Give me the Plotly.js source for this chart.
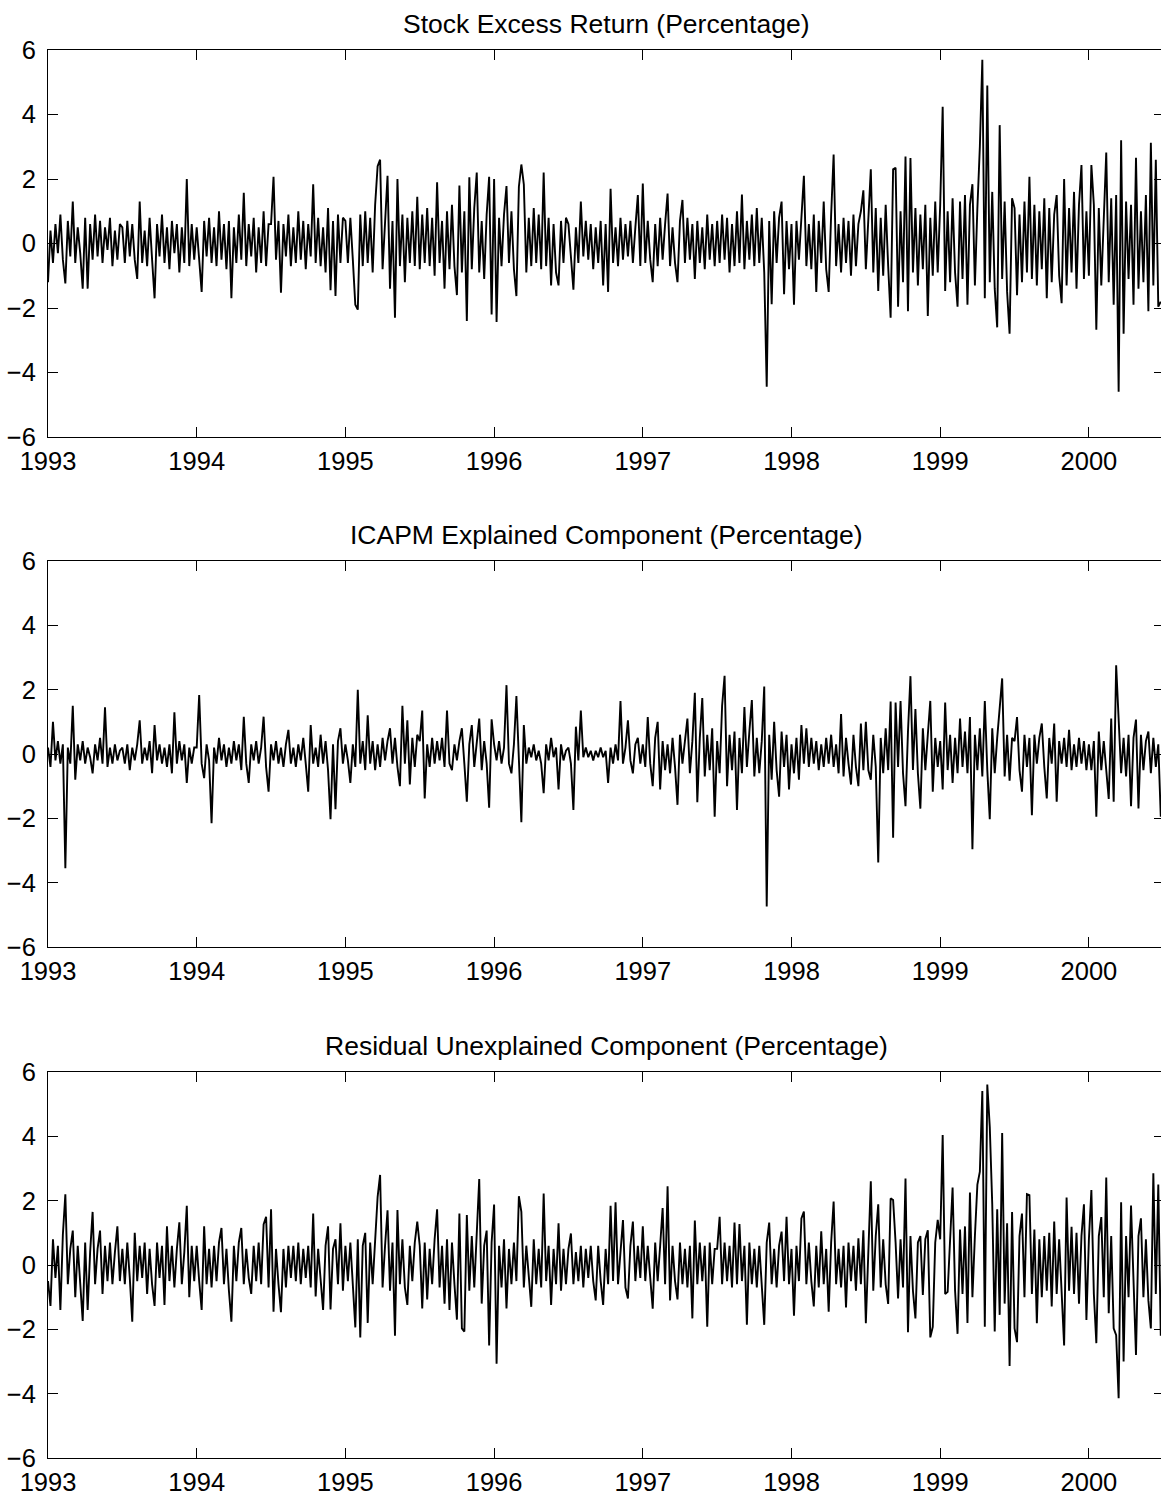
<!DOCTYPE html>
<html>
<head>
<meta charset="utf-8">
<script src="https://cdn.plot.ly/plotly-3.0.1.min.js"></script>
<style>
html,body{margin:0;padding:0;background:#fff;overflow:hidden;}
#chart{width:1164px;height:1499px;}
</style>
</head>
<body>
<div id="chart"></div>
<script>
// ---- data (one value every 1/60 year, by half-year blocks) ----
const START_YEAR = 1993;
const PTS_PER_YEAR = 60;
const yearTicks = [1993, 1994, 1995, 1996, 1997, 1998, 1999, 2000];
const yearLabels = ["1993", "1994", "1995", "1996", "1997", "1998", "1999", "2000"];
const yTicks = [-6, -4, -2, 0, 2, 4, 6];
const titles = [
  "Stock Excess Return (Percentage)",
  "ICAPM Explained Component (Percentage)",
  "Residual Unexplained Component (Percentage)"
];

const stockExcess = [
  -1.2,0.4,-0.6,0.6,-0.3,0.9,-0.5,-1.24,0.7,-0.4,1.3,-0.6,0.5,-0.3,-1.4,0.8,-1.4,0.6,-0.5,0.9,-0.4,0.7,-0.6,0.5,-0.2,0.8,-0.7,0.4,-0.5,0.6,
  0.5,-0.6,0.7,-0.4,0.6,-0.5,-1.1,1.3,-0.6,0.4,-0.7,0.8,-0.5,-1.7,0.6,-0.4,0.9,-0.6,0.5,-0.8,0.7,-0.3,0.6,-0.9,0.5,-0.6,2.0,-0.7,0.6,-0.5,
  0.5,-0.6,-1.5,0.7,-0.4,0.8,-0.6,0.5,-0.7,1.0,-0.5,0.6,-0.8,0.7,-1.7,0.5,-0.6,0.9,-0.5,1.57,-0.7,0.6,-0.4,0.8,-0.9,0.5,-0.6,1.0,-0.7,0.6,
  0.6,2.07,-0.5,0.7,-1.53,0.6,-0.4,0.9,-0.7,0.5,-0.6,1.0,-0.5,0.7,-0.8,0.6,-0.4,1.84,-0.6,0.8,-0.7,0.5,-0.9,1.1,-1.45,0.7,-1.63,0.9,-0.6,0.8,
  0.7,-0.6,0.8,-0.5,-1.9,-2.05,0.9,-0.7,1.0,-0.6,0.8,-0.9,1.2,2.4,2.6,-0.8,0.9,2.1,-1.4,0.7,-2.3,2.0,-0.7,0.9,-1.2,0.8,-0.6,1.0,-0.7,1.45,
  -0.8,0.9,-0.6,1.1,-0.7,0.8,-1.0,1.9,-0.6,0.7,-1.4,1.0,-0.8,1.2,-0.7,-1.6,1.8,-0.9,1.0,-2.4,2.05,-0.8,1.1,2.2,-0.9,0.7,-1.1,0.9,2.07,-2.2,
  2.0,-2.43,0.8,-0.7,0.9,1.78,-0.6,1.0,-0.8,-1.63,1.76,2.45,1.83,-0.9,0.8,-0.7,1.1,-0.6,0.9,-0.8,2.2,-0.7,0.8,-1.3,0.6,-0.9,-1.3,0.7,-0.6,0.8,
  0.6,-0.5,-1.43,0.5,-0.6,1.3,-0.4,0.7,-0.5,0.6,-0.8,0.5,-0.6,0.7,-1.3,0.6,-1.5,1.7,-0.6,0.5,-0.7,0.8,-0.5,0.6,-0.4,0.7,-0.6,0.5,1.5,-0.7,
  1.86,-0.6,0.7,-0.5,-1.2,0.6,-0.7,0.8,-0.5,0.6,1.55,-0.7,0.5,-0.6,-1.2,0.7,1.35,-0.6,0.8,-0.5,0.6,-1.1,0.7,-0.6,0.5,-0.8,0.9,-0.5,0.6,-0.7,
  0.7,-0.6,0.9,-0.5,0.8,-0.9,0.6,-0.7,1.0,-0.6,1.52,-0.8,0.7,-0.5,0.9,-0.7,1.1,-0.6,0.8,-0.9,-4.44,0.7,-1.88,1.0,-0.6,0.8,1.3,-1.57,0.7,-0.8,
  0.6,-1.9,0.7,-0.5,0.8,2.1,-0.7,0.6,-0.8,0.9,-1.5,0.7,-0.6,1.3,-0.8,-1.5,0.9,2.76,-0.7,0.6,-0.9,0.8,-0.6,0.7,-1.0,0.9,-0.7,0.6,1.0,1.65,
  -0.8,0.9,2.3,-0.9,1.1,-1.47,0.8,-1.0,1.2,-0.7,-2.3,2.3,2.35,-1.96,1.0,-1.2,2.7,-2.1,2.65,-0.9,1.1,-1.3,0.9,-0.8,1.2,-2.25,0.8,-1.0,1.3,-0.9,
  1.2,4.24,-1.47,1.0,-1.2,1.4,-0.9,-1.96,1.3,-1.1,1.5,-1.9,1.2,1.84,-1.3,1.1,3.0,5.7,-1.7,4.9,-1.2,1.6,-1.4,-2.6,3.67,-1.1,1.3,-1.5,-2.8,1.4,
  1.1,-1.6,0.9,-1.2,1.3,-0.9,2.07,-1.1,1.2,-1.3,1.0,-0.8,1.4,-1.7,1.1,-1.2,0.9,1.5,-1.0,-1.85,2.0,-1.3,1.1,-0.9,1.6,-1.4,1.2,2.43,-1.1,1.0,
  -1.0,2.43,1.2,-2.67,1.1,-1.3,0.9,2.82,-1.2,1.4,-1.9,1.5,-4.6,3.2,-2.8,1.3,-1.1,1.2,-1.9,2.66,-1.4,1.0,-1.2,1.5,-2.1,3.12,-1.3,2.6,-1.96,-1.8
];

const icapmExplained = [
  0.2,-0.4,1.0,-0.2,0.4,-0.3,0.3,-3.55,0.2,-0.3,1.5,-0.8,0.3,-0.2,0.4,-0.3,0.2,-0.1,-0.6,0.3,-0.2,0.5,-0.3,1.45,-0.4,0.2,-0.3,0.3,-0.2,0.1,
  0.2,-0.3,0.3,-0.5,0.2,-0.2,0.3,1.05,-0.3,0.2,-0.2,0.4,-0.6,0.9,-0.2,0.3,-0.3,0.2,-0.4,0.3,-0.6,1.3,-0.3,0.4,-0.2,0.3,-0.9,0.2,-0.3,0.2,
  0.2,1.83,-0.3,-0.75,0.3,-0.2,-2.15,0.2,-0.3,0.5,-0.2,0.3,-0.4,0.2,-0.3,0.4,-0.2,0.3,-0.5,1.16,-0.3,-0.9,0.3,-0.2,0.4,-0.3,0.2,1.16,-0.4,-1.17,
  0.3,-0.2,0.4,-0.3,0.2,-0.4,0.3,0.75,-0.3,0.2,-0.4,0.3,-0.2,0.5,-0.3,-1.17,0.9,-0.3,0.2,-0.4,0.6,-0.3,0.4,-0.5,-2.03,0.3,-1.72,0.4,0.8,-0.3,
  0.3,-0.2,-0.9,0.3,-0.4,2.0,-0.3,0.4,-0.5,1.2,-0.3,0.4,-0.5,0.3,-0.4,0.5,-0.2,0.4,0.8,-0.3,0.5,-0.4,-1.0,1.5,-0.3,1.05,-0.95,0.5,-0.4,0.6,
  0.4,1.35,-1.38,0.3,-0.4,0.5,-0.3,0.4,-0.2,0.5,-0.4,1.35,-0.3,-0.5,0.3,-0.2,0.4,0.8,-0.3,-1.48,0.3,0.9,-0.4,0.3,1.1,-0.5,0.4,-0.3,-1.67,1.08,
  0.3,-0.2,0.4,-0.3,0.2,2.14,-0.3,-0.6,0.3,1.8,-0.2,-2.12,0.9,-0.3,0.2,-0.1,0.3,-0.2,0.1,-0.3,-1.22,0.3,-0.2,0.5,-0.1,0.2,-1.1,0.3,-0.2,0.1,
  0.2,-0.3,-1.74,0.85,-0.2,1.35,-0.1,0.2,-0.1,0.1,-0.2,0.1,-0.1,0.2,-0.1,0.1,-0.9,0.2,-0.3,0.3,-0.2,1.65,-0.3,0.2,1.05,-0.2,-0.6,0.3,0.5,-0.3,
  0.3,-0.4,1.15,-0.3,-1.0,0.5,1.0,-1.1,0.4,-0.5,0.3,-0.6,0.5,-0.4,-1.58,0.6,-0.3,0.5,1.1,-0.6,0.4,1.9,-1.5,0.5,1.74,-0.7,0.6,-0.5,0.8,-1.95,
  0.4,-0.6,1.5,2.43,-1.0,0.6,-0.5,0.7,-1.74,0.5,-0.6,1.46,-0.4,0.7,1.68,-0.7,0.5,-0.6,0.4,2.1,-4.74,0.6,-0.8,1.0,-0.5,-1.33,0.7,-0.4,0.6,-1.1,
  0.3,-0.6,0.5,-0.8,0.9,-0.3,0.8,-0.4,0.5,-0.3,0.4,-0.5,0.3,-0.4,0.5,-0.3,0.6,-0.4,0.3,-0.6,1.24,-0.7,0.5,-0.3,-0.95,0.6,-0.4,-1.0,0.95,-0.5,
  1.0,-0.5,-0.8,0.6,-0.4,-3.37,0.5,-0.6,0.8,-0.5,1.63,-2.6,1.6,-0.4,1.65,-0.6,-1.62,0.7,2.42,-0.5,1.4,-0.6,-1.7,0.8,-0.5,0.6,1.65,-1.17,0.5,-0.4,
  0.4,-1.1,1.6,-0.5,0.6,-0.9,0.5,-0.6,1.1,-0.4,0.7,-0.6,1.15,-2.96,0.6,-0.5,0.8,-0.7,1.65,-0.5,-2.03,0.8,-0.6,0.5,1.4,2.35,-0.7,0.6,-0.83,0.5,
  0.4,1.15,-0.5,-1.17,0.6,-0.4,0.5,-1.9,0.6,-0.3,0.5,0.95,-0.4,-1.38,0.5,-0.3,0.95,-1.48,0.4,-0.3,0.5,-0.4,0.75,-0.5,0.3,-0.4,0.5,-0.3,0.4,-0.5,
  0.3,-0.5,0.4,-1.95,0.7,-0.5,0.4,-0.6,-1.4,1.1,-1.48,2.76,1.25,-0.6,0.5,-0.7,0.6,-1.62,0.5,1.07,-1.69,0.6,-0.5,0.4,0.7,-0.6,0.5,-0.4,0.3,-1.95
];

const residualUnexplained = [
  -0.5,-1.27,0.8,-0.4,0.6,-1.4,0.95,2.2,-0.6,0.5,1.07,-1.0,0.6,-0.5,-1.74,0.7,-1.4,0.4,1.65,-0.6,0.5,1.07,-0.9,0.6,-0.5,0.7,-0.6,0.4,1.2,-0.5,
  0.5,-0.6,0.7,-0.4,-1.76,1.0,-0.5,0.6,-0.4,0.7,-0.9,0.5,-0.6,-1.27,0.7,-0.4,0.6,-1.24,1.2,-0.5,0.6,-0.7,0.5,1.33,-0.6,0.4,1.84,-1.0,0.6,-0.5,
  0.6,-0.5,-1.4,1.2,-0.6,0.5,-0.7,0.6,-0.5,0.7,1.15,-0.6,0.5,-0.8,-1.76,0.6,-0.5,0.7,1.15,-0.6,0.5,-0.4,-0.9,0.6,-0.5,0.7,-0.6,1.26,1.5,-0.7,
  1.73,-1.45,0.5,-0.6,-1.47,0.5,-0.7,0.6,-0.4,0.6,-0.5,0.7,-0.6,0.5,-0.4,0.6,-0.7,1.6,-0.98,0.5,-0.6,-1.4,0.6,1.2,-1.38,0.5,0.8,-0.6,1.3,-0.8,
  0.6,-0.5,0.7,-0.6,-1.94,0.8,-2.25,0.6,1.0,-1.8,0.7,-0.6,0.8,2.12,2.8,-0.7,0.6,1.7,-0.8,0.7,-2.2,1.71,-0.6,0.8,-0.7,-1.24,0.6,-0.5,0.7,1.35,
  0.6,-1.35,0.7,-1.07,0.5,-0.6,0.8,1.73,-0.7,0.6,-1.2,0.8,-1.4,0.7,-0.6,-1.7,1.6,-1.97,-2.07,1.55,-0.8,0.9,-0.7,0.8,2.67,-1.2,0.6,1.07,-2.5,0.7,
  1.88,-3.07,0.6,-0.7,0.8,-1.35,0.5,-0.6,0.7,-0.5,2.14,1.65,-0.7,0.6,-0.5,-1.3,0.8,-0.6,0.5,-0.7,2.22,-0.5,0.6,-1.24,0.5,-0.6,1.3,-0.8,0.5,-0.6,
  0.5,0.98,-0.6,0.4,-0.5,0.6,-0.7,0.5,-0.4,0.6,-0.5,-1.1,0.6,-0.5,-1.24,0.5,-0.6,1.84,-0.5,1.95,-0.6,0.5,1.4,-0.7,-1.04,0.6,1.35,-0.5,0.6,-0.4,
  1.2,-0.5,0.6,-0.4,-1.36,0.7,-0.5,0.6,1.77,-0.6,2.45,-1.1,0.6,-0.5,-1.07,0.7,-0.6,0.5,-0.7,0.6,-1.66,1.38,-0.6,0.7,-0.5,0.6,-1.92,0.7,-0.6,0.5,
  0.5,1.5,-0.6,0.7,-0.5,0.6,-0.7,1.32,-0.6,1.27,-0.5,0.6,-1.86,0.7,-0.6,0.5,-0.7,0.6,-0.5,-1.86,0.7,1.32,-0.6,0.5,-0.7,0.6,1.04,-0.5,1.5,-0.6,
  0.5,-1.58,0.6,-0.5,1.45,1.66,-0.6,0.7,-0.5,-1.29,0.6,-0.7,1.05,-0.6,0.5,-1.45,0.7,1.97,-0.6,0.5,-0.7,0.6,-1.32,0.7,-0.5,0.6,-0.8,0.83,-0.6,1.08,
  -1.81,0.7,2.6,-0.8,0.9,1.89,-0.7,0.8,-0.6,-1.21,2.07,2.02,0.7,-1.04,0.8,-0.7,2.69,-2.09,0.9,-0.8,-1.66,0.7,0.9,-0.93,0.8,1.08,-2.25,-1.92,0.7,1.4,
  0.8,4.04,-0.9,-0.83,1.0,2.41,-0.8,-2.14,1.1,-0.9,1.2,-1.8,2.25,-1.0,0.9,2.5,2.9,5.41,-1.92,5.61,4.3,1.89,-2.07,1.73,-1.55,4.1,-1.2,1.3,-3.14,1.65,
  -1.97,-2.4,0.9,1.6,-1.0,2.2,2.17,-0.9,1.1,-1.81,0.8,-1.0,0.9,-0.8,1.0,-1.29,1.35,-0.9,0.8,-1.1,-2.5,2.1,-0.8,1.19,-0.9,1.0,-1.2,0.9,1.89,-1.71,
  0.8,2.33,-0.9,-2.43,0.9,1.49,-1.0,2.72,-1.5,0.9,-1.97,-2.18,-4.14,1.95,-3.0,0.9,-1.0,1.85,-0.8,-2.8,0.9,1.45,-1.0,0.8,-1.1,-1.97,2.85,-0.9,2.5,-2.2
];

// ---- chart ----
const seriesList = [stockExcess, icapmExplained, residualUnexplained];
const W = 1164, H = 1499;
const plotLeft = 48;
const pxPerYear = 148.7;
const xEnd = START_YEAR + (W - plotLeft) / pxPerYear;
const panelPx = [[50, 437], [561, 947], [1072, 1458]]; // top, bottom in px
const FONT = "Liberation Sans, Arial, Helvetica, sans-serif";

const traces = [];
const layout = {
  width: W, height: H,
  margin: {l: plotLeft, r: 0, t: 0, b: 0},
  paper_bgcolor: "#ffffff",
  plot_bgcolor: "#ffffff",
  showlegend: false,
  font: {family: FONT, size: 25.5, color: "#000"},
  annotations: []
};

seriesList.forEach((ys, k) => {
  const xs = ys.map((_, i) => START_YEAR + i / PTS_PER_YEAR);
  const n = k === 0 ? "" : String(k + 1);
  traces.push({
    x: xs, y: ys, type: "scatter", mode: "lines",
    line: {color: "#000", width: 1.9},
    xaxis: "x" + n, yaxis: "y" + n, hoverinfo: "skip"
  });
  const dom = [1 - panelPx[k][1] / H, 1 - panelPx[k][0] / H];
  layout["xaxis" + n] = {
    domain: [0, 1], anchor: "y" + n,
    range: [START_YEAR, xEnd],
    tickmode: "array", tickvals: yearTicks, ticktext: yearLabels,
    ticks: "inside", ticklen: 10, tickwidth: 1, tickcolor: "#000",
    showline: true, linecolor: "#000", linewidth: 1, mirror: "ticks",
    showgrid: false, zeroline: false,
    tickfont: {family: FONT, size: 25.5, color: "#000"},
    ticklabelstandoff: 1
  };
  layout["yaxis" + n] = {
    domain: dom, anchor: "x" + n,
    range: [-6, 6],
    tickmode: "array", tickvals: yTicks,
    ticks: "inside", ticklen: 10, tickwidth: 1, tickcolor: "#000",
    showline: true, linecolor: "#000", linewidth: 1, mirror: "ticks",
    showgrid: false, zeroline: false,
    tickfont: {family: FONT, size: 25.5, color: "#000"},
    ticklabelstandoff: 6
  };
  layout.annotations.push({
    text: titles[k], xref: "paper", yref: "paper",
    x: 0.5, y: dom[1],
    xanchor: "center", yanchor: "bottom",
    yshift: 9, showarrow: false,
    font: {family: FONT, size: 26.5, color: "#000"}
  });
});

Plotly.newPlot("chart", traces, layout, {displayModeBar: false, staticPlot: true});
</script>
</body>
</html>
